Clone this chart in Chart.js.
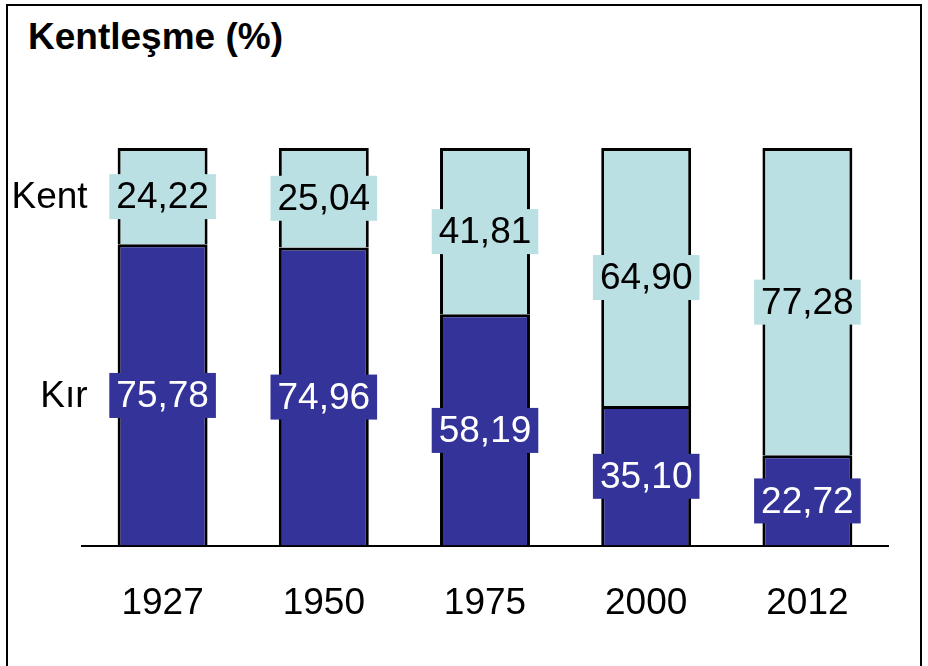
<!DOCTYPE html>
<html>
<head>
<meta charset="utf-8">
<script src="https://cdn.jsdelivr.net/npm/chart.js@4"></script>
<style>
html,body{margin:0;padding:0;background:#fff;}
#wrap{position:relative;width:928px;height:666px;overflow:hidden;}
#frame{position:absolute;left:6px;top:4px;width:916px;height:700px;border:2px solid #000;box-sizing:border-box;}
#title{position:absolute;left:28px;top:16px;font:bold 37px "Liberation Sans",Arial,sans-serif;color:#000;}
canvas{position:absolute;left:0;top:0;}
</style>
</head>
<body>
<div id="wrap">
<div id="frame"></div>
<div id="title">Kentleşme (%)</div>
<canvas id="chart" width="928" height="666"></canvas>
</div>
<script>
let years=["1927","1950","1975","2000","2012"]
let kir=[75.78,74.96,58.19,35.10,22.72]
let kent=[24.22,25.04,41.81,64.90,77.28]
let seriesNames=["Kır","Kent"]

let labelFont='37px "Liberation Sans", Arial, sans-serif'

function fmt(v){
    return v.toFixed(2).replace(".",",")
}

// draws boxed value labels and the series names left of the first bar
let labelPlugin={
    id:"boxLabels",
    afterDatasetsDraw(chart){
        let ctx=chart.ctx
        ctx.save()
        ctx.font=labelFont
        ctx.textBaseline="middle"
        chart.data.datasets.forEach((ds,i)=>{
            let meta=chart.getDatasetMeta(i)
            meta.data.forEach((bar,j)=>{
                let y=(bar.y+bar.base)/2
                let txt=fmt(ds.data[j])
                let w=ctx.measureText(txt).width+14
                ctx.fillStyle=ds.backgroundColor
                ctx.fillRect(bar.x-w/2,y-22,w,45)
                ctx.fillStyle=ds.labelColor
                ctx.textAlign="center"
                ctx.fillText(txt,bar.x,y+2)
                if(j==0){
                    ctx.fillStyle="#000"
                    ctx.textAlign="right"
                    ctx.fillText(ds.label,bar.x-bar.width/2-30,y+2)
                }
            })
        })
        ctx.restore()
    }
}

new Chart(document.getElementById("chart"),{
    type:"bar",
    data:{
        labels:years,
        datasets:[{
            label:seriesNames[0],
            data:kir,
            backgroundColor:"#333399",
            labelColor:"#fff",
            borderColor:"#000",
            borderWidth:3,
            borderSkipped:"start"
        },{
            label:seriesNames[1],
            data:kent,
            backgroundColor:"#bbe0e3",
            labelColor:"#000",
            borderColor:"#000",
            borderWidth:3,
            borderSkipped:"start"
        }]
    },
    options:{
        responsive:false,
        animation:false,
        layout:{padding:{left:82,right:40,top:148,bottom:4}},
        plugins:{legend:{display:false},tooltip:{enabled:false},title:{display:false}},
        datasets:{bar:{barPercentage:0.558,categoryPercentage:1}},
        scales:{
            x:{
                stacked:true,
                grid:{display:false,drawTicks:false},
                border:{display:true,color:"#000",width:2},
                ticks:{color:"#000",font:{family:'"Liberation Sans", Arial, sans-serif',size:37},padding:36}
            },
            y:{
                stacked:true,
                display:false,
                min:0,
                max:100
            }
        }
    },
    plugins:[labelPlugin]
})
</script>
</body>
</html>
